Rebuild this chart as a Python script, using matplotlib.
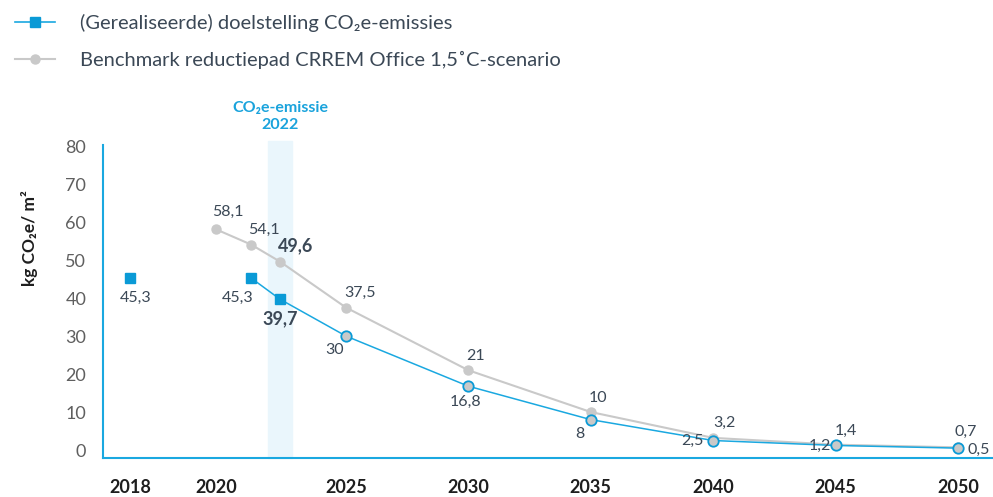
import numpy as np
import matplotlib
matplotlib.use("Agg")
import matplotlib.pyplot as plt
from matplotlib.lines import Line2D

plt.rcParams['font.family'] = ['Lato', 'Noto Sans', 'DejaVu Sans']

# data
jaren_doel = [2018, 2021, 2022, 2025, 2030, 2035, 2040, 2045, 2050]
doel = [45.3, 45.3, 39.7, 30, 16.8, 8, 2.5, 1.2, 0.5]
jaren_bench = [2020, 2021, 2022, 2025, 2030, 2035, 2040, 2045, 2050]
bench = [58.1, 54.1, 49.6, 37.5, 21, 10, 3.2, 1.4, 0.7]
xtick_jaren = [2018, 2020, 2025, 2030, 2035, 2040, 2045, 2050]
yticks = [0, 10, 20, 30, 40, 50, 60, 70, 80]

BLAUW = '#0a9ad6'
BLAUW_LIJN = '#1aa8e0'
GRIJS = '#c9c9c9'
TEKST = '#3b4856'

# ongelijke x-as zoals in het origineel
anker_jaar = [2017.37, 2018, 2020, 2021, 2022, 2025, 2051.43]
anker_pos = [103, 130, 216, 251, 280, 346, 993]
def fwd(x):
    return np.interp(x, anker_jaar, anker_pos)
def inv(p):
    return np.interp(p, anker_pos, anker_jaar)

fig = plt.figure(figsize=(9.93, 4.97), dpi=100)
ax = fig.add_axes([103/993, 39/497, 890/993, 313/497])
ax.set_xscale('function', functions=(fwd, inv))
ax.set_xlim(anker_jaar[0], anker_jaar[-1])
ax.set_ylim(-2.1, 80.3)

# band 2022
ax.axvspan(2021.59, 2022.55, ymin=0, ymax=1.013, color='#eaf6fc', zorder=0, clip_on=False)
ax.text(2022, 1.04, 'CO₂e-emissie\n2022', transform=ax.get_xaxis_transform(),
        ha='center', va='bottom', color='#1aa3dc', fontsize=11.5, fontweight='bold',
        linespacing=1.35)

# benchmark
ax.plot(jaren_bench, bench, color=GRIJS, lw=1.5, marker='o', ms=6.5,
        mfc=GRIJS, mec=GRIJS, zorder=3)

# doelstelling: 2018 los, daarna lijn
ax.plot(jaren_doel[1:], doel[1:], color=BLAUW_LIJN, lw=1.1, zorder=4)
ax.plot(jaren_doel[:3], doel[:3], ls='none', marker='s', ms=7, color=BLAUW, zorder=5)
ax.plot(jaren_doel[3:], doel[3:], ls='none', marker='o', ms=7.5, mfc=GRIJS,
        mec=BLAUW, mew=1.3, zorder=5)

def fmt(v):
    return f"{v:g}".replace('.', ',')

# label offsets (pixels)
off_doel = [(6, -20, 'center'), (-13, -20, 'center'), (0, -20, 'center'),
            (-11, -14, 'center'), (-3, -16, 'center'), (-11, -14, 'center'),
            (-10, 0, 'right'), (-5, 0, 'right'), (10, -2, 'left')]
off_bench = [(12, 17), (13, 15), (16, 16), (14, 15), (7, 14), (7, 14),
             (11, 15), (10, 14), (8, 15)]

for j, v, (dx, dy, ha) in zip(jaren_doel, doel, off_doel):
    bold = j == 2022
    ax.annotate(fmt(v), (j, v), xytext=(dx, dy), textcoords='offset pixels',
                ha=ha, va='center', fontsize=13 if bold else 11.5,
                fontweight='bold' if bold else 'normal', color=TEKST, zorder=6)
for j, v, (dx, dy) in zip(jaren_bench, bench, off_bench):
    bold = j == 2022
    ax.annotate(fmt(v), (j, v), xytext=(dx, dy), textcoords='offset pixels',
                ha='center', va='center', fontsize=13 if bold else 11.5,
                fontweight='bold' if bold else 'normal', color=TEKST, zorder=6)

# assen
for s in ['top', 'right']:
    ax.spines[s].set_visible(False)
for s in ['left', 'bottom']:
    ax.spines[s].set_color(BLAUW_LIJN)
    ax.spines[s].set_linewidth(1.5)
ax.set_yticks(yticks)
ax.set_xticks(xtick_jaren)
ax.set_xticklabels([str(j) for j in xtick_jaren])
ax.xaxis.set_minor_locator(matplotlib.ticker.NullLocator())
ax.tick_params(axis='y', length=0, pad=12, labelsize=13, labelcolor='#5f5f5f')
ax.tick_params(axis='x', length=0, pad=15, labelsize=13, labelcolor='#1e1e1e')
for t in ax.get_xticklabels():
    t.set_fontweight('bold')

fig.text(30/993, 1 - 238/497, 'kg CO₂e/ m²', rotation=90, ha='center', va='center',
         fontsize=12.5, fontweight='bold', color='#1e1e1e')

# legenda
handles = [
    Line2D([], [], color=BLAUW_LIJN, lw=1.2, marker='s', ms=7, mfc=BLAUW, mec=BLAUW),
    Line2D([], [], color=GRIJS, lw=1.5, marker='o', ms=6.5, mfc=GRIJS, mec=GRIJS),
]
labels = ['(Gerealiseerde) doelstelling CO₂e-emissies',
          'Benchmark reductiepad CRREM Office 1,5˚C-scenario']
fig.legend(handles, labels, loc='upper left', bbox_to_anchor=(15/993, 1 - 14/497),
           frameon=False, fontsize=14.5, handlelength=2.0, handletextpad=1.25,
           labelspacing=0.95, borderpad=0, borderaxespad=0, labelcolor=TEKST)

fig.savefig('out.png', dpi=100)
